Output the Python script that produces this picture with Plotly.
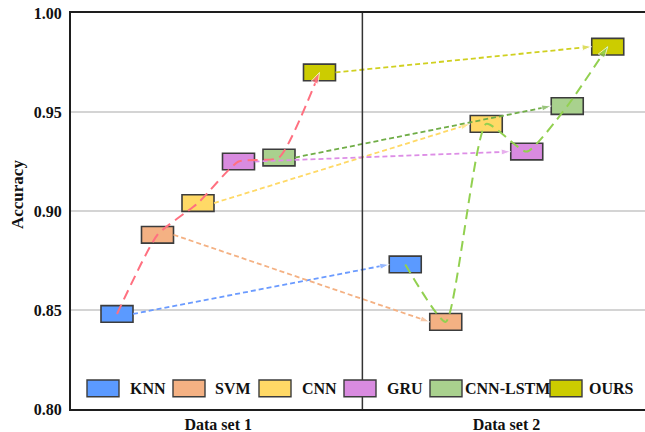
import plotly.graph_objects as go

# ---- data -------------------------------------------------------------
methods = ["KNN", "SVM", "CNN", "GRU", "CNN-LSTM", "OURS"]
datasets = ["Data set 1", "Data set 2"]
acc_set1 = [0.848, 0.888, 0.904, 0.925, 0.927, 0.970]
acc_set2 = [0.873, 0.844, 0.944, 0.930, 0.953, 0.983]
y_ticks = [0.80, 0.85, 0.90, 0.95, 1.00]

# ---- style ------------------------------------------------------------
box_fill = ["#5b9aff", "#f4b183", "#ffd966", "#d98be0", "#a9d18e", "#cccc00"]
arrow_col = ["#6b9bff", "#f4b183", "#ffd966", "#dd8ee6", "#70ad47", "#d0d020"]
trend1_col = "#ff7080"
trend2_col = "#92d050"
FONT = "Liberation Serif"

STEP = 0.1405      # spacing of the boxes inside a data-set group
BOX_W = 0.111      # box width (x units)
BOX_H = 0.0084     # box height (accuracy units)
n = len(methods)
offsets = [(i - (n - 1) / 2) * STEP for i in range(n)]

fig = go.Figure()

# floating boxes, centred on each accuracy value
for i, m in enumerate(methods):
    vals = [acc_set1[i], acc_set2[i]]
    fig.add_trace(go.Bar(
        x=[0 + offsets[i], 1 + offsets[i]],
        y=[BOX_H, BOX_H],
        base=[v - BOX_H / 2 for v in vals],
        width=BOX_W,
        marker=dict(color=box_fill[i], line=dict(color="#3c3c3c", width=1.6)),
        name=m, showlegend=False, hoverinfo="skip",
    ))

# per-method arrows from data set 1 to data set 2
for i, m in enumerate(methods):
    fig.add_trace(go.Scatter(
        x=[offsets[i] + BOX_W / 2, 1 + offsets[i] - BOX_W / 2],
        y=[acc_set1[i], acc_set2[i]],
        mode="lines+markers",
        line=dict(color=arrow_col[i], width=1.8, dash="5px,3px"),
        marker=dict(symbol="arrow", size=[0, 10], angleref="previous",
                    color=arrow_col[i]),
        showlegend=False, hoverinfo="skip",
    ))

# trend through the methods within each data set
for g, (vals, col) in enumerate([(acc_set1, trend1_col), (acc_set2, trend2_col)]):
    fig.add_trace(go.Scatter(
        x=[g + o for o in offsets],
        y=vals,
        mode="lines+markers",
        line=dict(color=col, width=2, dash="10px,6px", shape="spline", smoothing=0.5),
        marker=dict(symbol="arrow", size=[0] * (n - 1) + [12], angleref="previous",
                    color=col),
        showlegend=False, hoverinfo="skip",
    ))

# ---- layout -----------------------------------------------------------
W, H = 645, 432
ml, mr, mt, mb = 71, 0, 13, 23
pw, ph = W - ml - mr, H - mt - mb


def px_x(px):
    return (px - ml) / pw


def px_y(py):
    return (H - mb - py) / ph


shapes = [
    dict(type="line", xref="x", yref="paper", x0=0.5, x1=0.5, y0=0, y1=1,
         line=dict(color="#333333", width=1.5), layer="above"),
]
annotations = [
    dict(text="Accuracy", x=px_x(18), y=px_y(195), xref="paper", yref="paper",
         textangle=-90, showarrow=False, xanchor="center", yanchor="middle",
         font=dict(family=FONT, size=17, color="#111111", weight="bold")),
]

# legend drawn as a row of boxes with labels
leg_box_x = [87, 173, 259, 344, 430, 550]
leg_txt_x = [128, 213, 300, 385, 463, 587]
leg_y0, leg_y1 = 380, 396.7
for i, m in enumerate(methods):
    shapes.append(dict(type="rect", xref="paper", yref="paper",
                       x0=px_x(leg_box_x[i]), x1=px_x(leg_box_x[i] + 32),
                       y0=px_y(leg_y1), y1=px_y(leg_y0),
                       fillcolor=box_fill[i], line=dict(color="#3c3c3c", width=1.4),
                       layer="above"))
    annotations.append(dict(text=m, x=px_x(leg_txt_x[i]), y=px_y((leg_y0 + leg_y1) / 2),
                            xref="paper", yref="paper", showarrow=False,
                            xanchor="left", yanchor="middle",
                            font=dict(family=FONT, size=16, color="#111111", weight="bold")))

fig.update_layout(
    width=W, height=H,
    margin=dict(l=ml, r=mr, t=mt, b=mb, pad=0),
    paper_bgcolor="white", plot_bgcolor="white",
    barmode="overlay",
    shapes=shapes, annotations=annotations,
    xaxis=dict(range=[(ml - 218.25) / 288.25, (W - 218.25) / 288.25],
               tickvals=[0, 1], ticktext=datasets,
               showgrid=False, zeroline=False, showline=True, mirror=True,
               linecolor="#1e1e1e", linewidth=2, ticks="",
               tickfont=dict(family=FONT, size=16, color="#111111", weight="bold"),
               automargin=False),
    yaxis=dict(range=[0.80, 1.00], tickvals=y_ticks,
               ticktext=[f"{v:.2f}" for v in y_ticks],
               showgrid=True, gridcolor="#d4d4d4", gridwidth=1.5,
               zeroline=False, showline=True, linecolor="#1e1e1e", linewidth=2,
               ticks="", ticklabelstandoff=4,
               tickfont=dict(family=FONT, size=16, color="#111111", weight="bold"),
               automargin=False),
)

fig.write_html("out.html")
